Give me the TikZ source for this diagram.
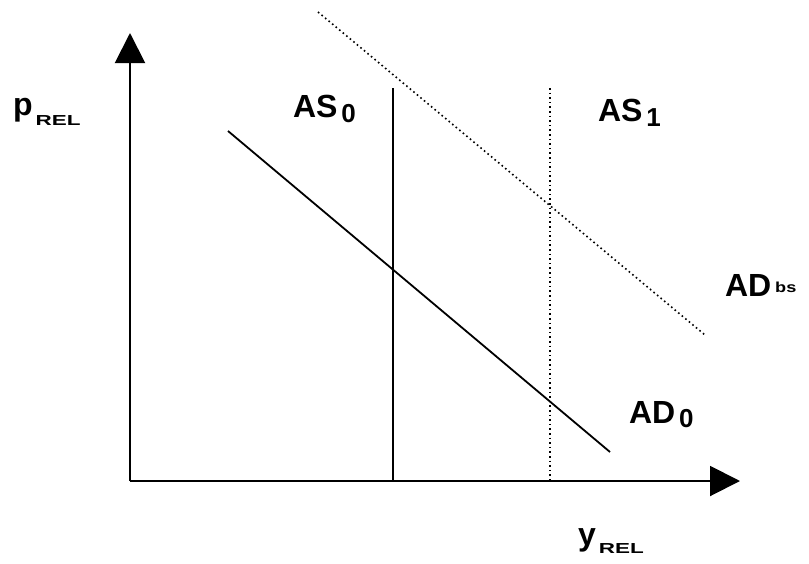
\documentclass[tikz,border=0pt]{standalone}
\usepackage{fontspec}
\setmainfont{Liberation Sans}
\usetikzlibrary{arrows.meta}
\newcommand{\bigf}{\fontsize{32}{32}\selectfont\bfseries}
\newcommand{\subf}{\fontsize{26}{26}\selectfont\bfseries}
\newcommand{\tinyf}{\fontsize{14.5}{14.5}\selectfont\bfseries}
\newcommand{\wide}[1]{\scalebox{1.55}[1]{\tinyf #1}}
\newcommand{\wideb}[1]{\scalebox{1.25}[1]{\tinyf #1}}
\begin{document}
\begin{tikzpicture}[x=1pt,y=-1pt,
  axis/.style={line width=2pt,-{Triangle[length=30pt,width=30pt]}},
  curve/.style={line width=1.8pt},
  dotcurve/.style={line width=1.6pt,dash pattern=on 1.6pt off 3pt},
  lbl/.style={anchor=base west,inner sep=0pt,outer sep=0pt}]
\useasboundingbox (0,0) rectangle (809,563);
\coordinate (O) at (130,481);
\coordinate (ytip) at (130,33);
\coordinate (xtip) at (740,481);
\draw[axis] (O) -- (ytip);
\draw[axis] (O) -- (xtip);
% AS0
\coordinate (as0t) at (393,88);
\coordinate (as0b) at (393,481);
\draw[curve] (as0t) -- (as0b);
% AS1
\coordinate (as1t) at (550,88);
\coordinate (as1b) at (550,481);
\draw[dotcurve] (as1t) -- (as1b);
% AD0
\coordinate (ad0a) at (228,131);
\coordinate (ad0b) at (610,452);
\draw[curve] (ad0a) -- (ad0b);
% ADbs
\coordinate (adbsa) at (318,12);
\coordinate (adbsb) at (705,335);
\draw[dotcurve] (adbsa) -- (adbsb);
% labels
\node[lbl] (pl) at (13,115) {\bigf p\hspace{3pt}\raisebox{-10pt}{\wide{REL}}};
\node[lbl] (as0) at (293,117) {\bigf AS\hspace{4pt}\raisebox{-5pt}{\subf 0}};
\node[lbl] (as1) at (598,121) {\bigf AS\hspace{4pt}\raisebox{-5pt}{\subf 1}};
\node[lbl] (adbs) at (725,296) {\bigf AD\hspace{4pt}\raisebox{4pt}{\wideb{bs}}};
\node[lbl] (ad0) at (629,423) {\bigf AD\hspace{4pt}\raisebox{-4pt}{\subf 0}};
\node[lbl] (yl) at (578,545) {\bigf y\hspace{3pt}\raisebox{-8pt}{\wide{REL}}};
\end{tikzpicture}
\end{document}
